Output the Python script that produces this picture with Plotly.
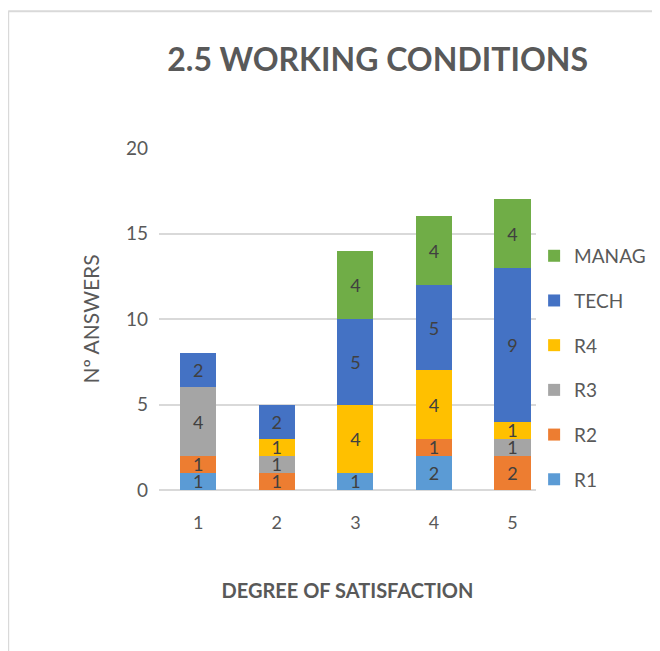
import plotly.graph_objects as go

# -------------------------------------------------
# Data
# -------------------------------------------------
categories = ["1", "2", "3", "4", "5"]
r1 = [1, 0, 1, 2, 0]
r2 = [1, 1, 0, 1, 2]
r3 = [4, 1, 0, 0, 1]
r4 = [0, 1, 4, 4, 1]
tech = [2, 2, 5, 5, 9]
manag = [0, 0, 4, 4, 4]

series = [
    ("R1", r1, "#5B9BD5"),
    ("R2", r2, "#ED7D31"),
    ("R3", r3, "#A5A5A5"),
    ("R4", r4, "#FFC000"),
    ("TECH", tech, "#4472C4"),
    ("MANAG", manag, "#70AD47"),
]

FONT = "Lato"
GREY = "#595959"

fig = go.Figure()
for i, (name, vals, color) in enumerate(series):
    fig.add_trace(go.Bar(
        x=categories,
        y=vals,
        name=name,
        legendgroup=name,
        legendrank=100 - i,  # MANAG on top, like the original
        marker=dict(color=color, line=dict(width=0)),
        text=[str(v) if v else "" for v in vals],
        textposition="inside",
        insidetextanchor="middle",
        textangle=0,
        textfont=dict(family=FONT, size=18, color="#404040"),
        width=0.46,
    ))

# plot area: 151..528 px wide, 140..482 px tall
fig.update_layout(
    barmode="stack",
    width=660,
    height=651,
    paper_bgcolor="white",
    plot_bgcolor="white",
    margin=dict(l=151, r=132, t=140, b=169),
    font=dict(family=FONT, color=GREY),
    uniformtext=dict(minsize=18, mode="show"),
    title=dict(
        text="<b>2.5 WORKING CONDITIONS</b>",
        font=dict(family=FONT, size=32, color=GREY),
        x=0.56, xanchor="center",
        y=0.92, yanchor="middle",
    ),
    legend=dict(
        tracegroupgap=17,
        x=0.995, xanchor="left",
        y=0.74, yanchor="top",
        font=dict(family=FONT, size=19, color=GREY),
        bgcolor="rgba(0,0,0,0)",
    ),
    xaxis=dict(
        type="category",
        range=[-0.5, 4.3],
        showgrid=False,
        showline=False,
        ticks="",
        ticklabelstandoff=20,
        tickfont=dict(size=18, color=GREY),
        title=dict(
            text="<b>DEGREE OF SATISFACTION</b>",
            font=dict(size=20, color=GREY),
            standoff=51,
        ),
    ),
    yaxis=dict(
        range=[0, 20],
        dtick=5,
        showgrid=True,
        gridcolor="#D9D9D9",
        gridwidth=2,
        zeroline=True,
        zerolinecolor="#D9D9D9",
        zerolinewidth=2,
        showline=False,
        ticks="",
        ticklabelstandoff=10,
        tickfont=dict(size=19, color=GREY),
        title=dict(
            text="Nº ANSWERS",
            font=dict(size=21, color=GREY),
            standoff=20,
        ),
    ),
)

# thin frame on the top and left edges of the chart
fig.add_shape(type="line", xref="paper", yref="paper",
              x0=-0.40, x1=1.35, y0=1.40, y1=1.40,
              line=dict(color="#D9D9D9", width=2))
fig.add_shape(type="line", xref="paper", yref="paper",
              x0=-0.40, x1=-0.40, y0=-0.50, y1=1.40,
              line=dict(color="#D9D9D9", width=2))

fig.write_html("out.html")
